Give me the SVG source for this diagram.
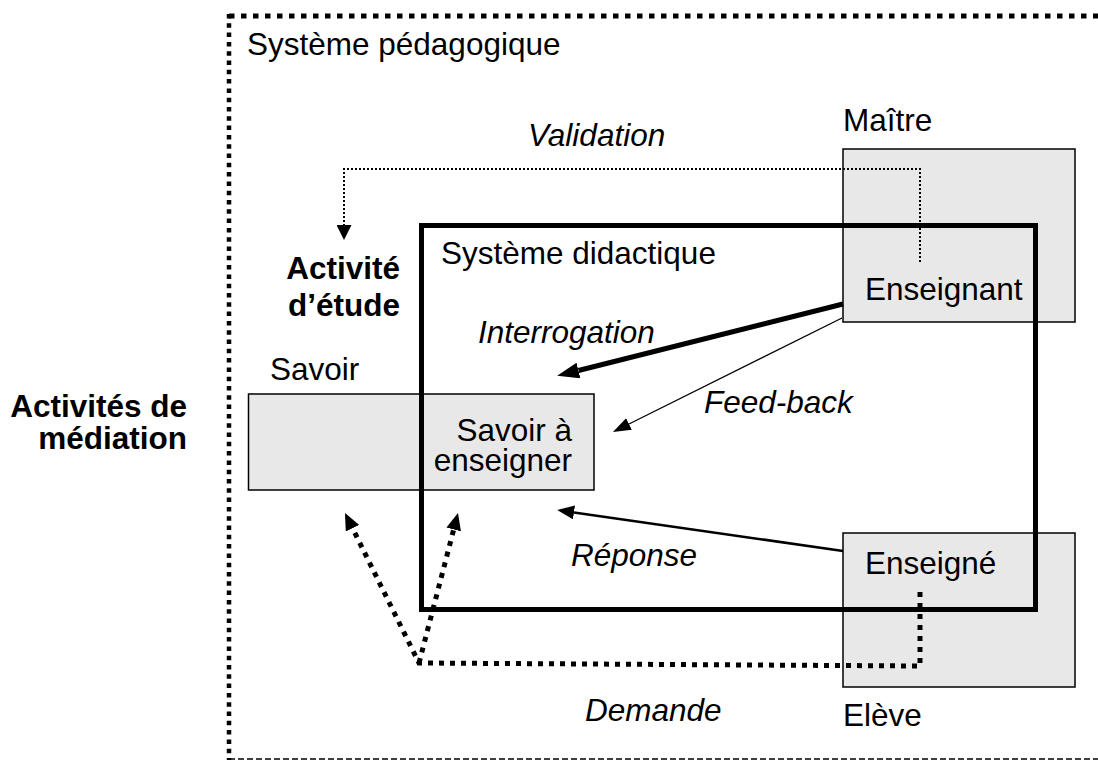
<svg xmlns="http://www.w3.org/2000/svg" width="1098" height="762" viewBox="0 0 1098 762">
  <style>
    .t { font-family: "Liberation Sans", Arial, sans-serif; font-size: 31.5px; fill: #000; }
    .i { font-style: italic; }
    .b { font-weight: bold; }
    .e { text-anchor: end; }
    .box { fill: #e8e8e8; stroke: #000; stroke-width: 1.5; }
    .ln { fill: none; stroke: #000; }
  </style>
  <defs>
    <marker id="aV" markerUnits="userSpaceOnUse" markerWidth="15" markerHeight="15" refX="0" refY="7.5" orient="auto">
      <path d="M0,0 L15,7.5 L0,15 z" fill="#000"/>
    </marker>
    <marker id="aI" markerUnits="userSpaceOnUse" markerWidth="22" markerHeight="16" refX="0" refY="8" orient="auto">
      <path d="M0,0 L22,8 L0,16 z" fill="#000"/>
    </marker>
    <marker id="aF" markerUnits="userSpaceOnUse" markerWidth="18" markerHeight="13" refX="0" refY="6.5" orient="auto">
      <path d="M0,0 L18,6.5 L0,13 z" fill="#000"/>
    </marker>
    <marker id="aR" markerUnits="userSpaceOnUse" markerWidth="17" markerHeight="14" refX="0" refY="7" orient="auto">
      <path d="M0,0 L17,7 L0,14 z" fill="#000"/>
    </marker>
    <marker id="aD" markerUnits="userSpaceOnUse" markerWidth="17" markerHeight="15" refX="0" refY="7.5" orient="auto">
      <path d="M0,0 L17,7.5 L0,15 z" fill="#000"/>
    </marker>
  </defs>
  <rect width="1098" height="762" fill="#fff"/>

  <g id="systeme-pedagogique">
    <line class="ln" x1="229" y1="16" x2="1098" y2="16" stroke-width="5" stroke-dasharray="5.5 6.5"/>
    <line class="ln" x1="229" y1="14" x2="229" y2="760" stroke-width="4.5" stroke-dasharray="4.5 4.8"/>
    <line class="ln" x1="229" y1="759" x2="1098" y2="759" stroke-width="1.5" stroke-dasharray="6 3"/>
    <text class="t" x="247" y="55">Système pédagogique</text>
  </g>

  <g id="savoir">
    <rect class="box" x="248.5" y="394" width="345.5" height="96"/>
    <text class="t" x="270" y="380">Savoir</text>
  </g>

  <g id="maitre">
    <rect class="box" x="843" y="149" width="232" height="173"/>
    <text class="t" x="843" y="131">Maître</text>
  </g>

  <g id="eleve">
    <rect class="box" x="843" y="533" width="232" height="154"/>
    <text class="t" x="843" y="726">Elève</text>
  </g>

  <g id="systeme-didactique">
    <rect x="421.5" y="225.5" width="614" height="384" fill="none" stroke="#000" stroke-width="5"/>
    <text class="t" x="441" y="264">Système didactique</text>
  </g>

  <g id="connectors">
    <path class="ln" d="M920,262 V169 H344 V225" stroke-width="2" stroke-dasharray="2 2" marker-end="url(#aV)"/>
    <line class="ln" x1="843" y1="304" x2="578.5" y2="370.5" stroke-width="5" marker-end="url(#aI)"/>
    <line class="ln" x1="842" y1="318" x2="629" y2="424" stroke-width="1.3" marker-end="url(#aF)"/>
    <line class="ln" x1="843" y1="551" x2="574" y2="512.4" stroke-width="2.5" marker-end="url(#aR)"/>
    <path class="ln" d="M920,592 V666 L419,663 L352.5,528.2" stroke-width="5" stroke-dasharray="5 6" marker-end="url(#aD)"/>
    <path class="ln" d="M419,663 L453.7,529.5" stroke-width="5" stroke-dasharray="5 6" marker-end="url(#aD)"/>
  </g>

  <g id="labels">
    <text class="t i" x="528" y="146">Validation</text>
    <text class="t b e"><tspan x="400" y="279">Activité</tspan><tspan x="400" y="316">d’étude</tspan></text>
    <text class="t" x="865" y="300">Enseignant</text>
    <text class="t i" x="478" y="343">Interrogation</text>
    <text class="t b e"><tspan x="187" y="417">Activités de</tspan><tspan x="187" y="449">médiation</tspan></text>
    <text class="t e"><tspan x="572" y="441">Savoir à</tspan><tspan x="572" y="471">enseigner</tspan></text>
    <text class="t i" x="704" y="413">Feed-back</text>
    <text class="t i" x="571" y="566">Réponse</text>
    <text class="t" x="865" y="574">Enseigné</text>
    <text class="t i" x="585" y="721">Demande</text>
  </g>
</svg>
